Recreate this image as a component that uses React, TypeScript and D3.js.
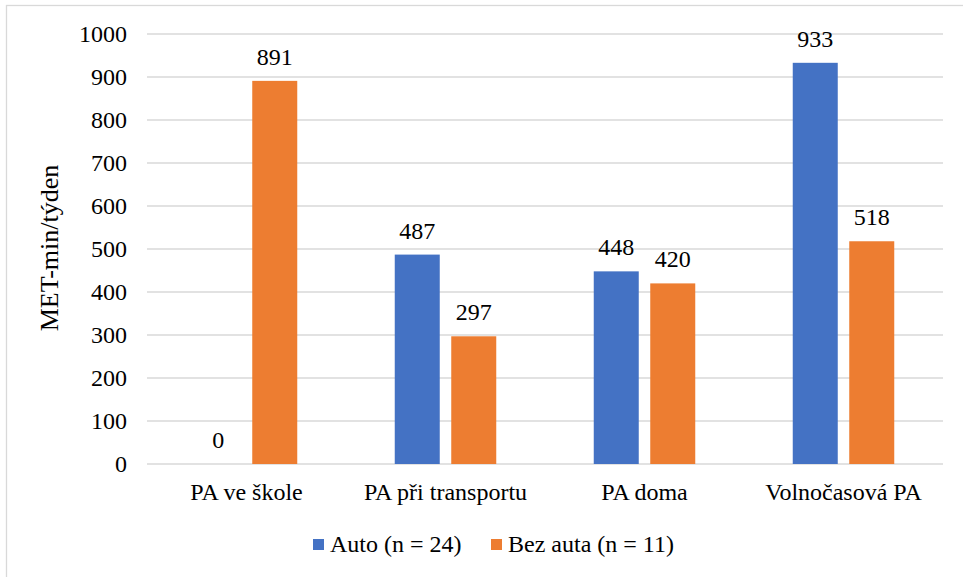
import React from "react";
import * as d3 from "d3";

const categories = ["PA ve škole", "PA při transportu", "PA doma", "Volnočasová PA"];
const seriesNames = ["Auto (n = 24)", "Bez auta (n = 11)"];
const autoValues = [0, 487, 448, 933];
const bezAutaValues = [891, 297, 420, 518];
const yTicks = [0, 100, 200, 300, 400, 500, 600, 700, 800, 900, 1000];
const colors = ["#4472C4", "#ED7D31"];

const W = 963;
const H = 577;

export default function App() {
  const left = 147, right = 943, top = 34, bottom = 464;
  const x0 = d3.scaleBand<string>().domain(categories).range([left, right]).paddingInner(0).paddingOuter(0);
  const y = d3.scaleLinear().domain([0, 1000]).range([bottom, top]);
  const barW = 45;
  const gap = 11.5;
  const series = [autoValues, bezAutaValues];

  return (
    <div style={{ position: "absolute", left: 0, top: 0, width: W, height: H, fontFamily: "serif" }}>
      <style>{`.serifchart text { font-family: "Liberation Serif", "Times New Roman", Tinos, serif !important; }`}</style>
      <svg className="serifchart" width={W} height={H} fontFamily="serif">
        <rect x={0} y={0} width={W} height={H} fill="#fff" />
        <rect x={6.5} y={5.5} width={W + 10} height={H + 10} fill="#fff" stroke="#d9d9d9" strokeWidth={1.3} />
        {yTicks.map((t) => (
          <g key={t}>
            <line x1={left} x2={right} y1={y(t)} y2={y(t)} stroke="#d9d9d9" strokeWidth={1.3} />
            <text x={127} y={y(t) + 8} textAnchor="end" fontSize={24}>{t}</text>
          </g>
        ))}
        {categories.map((c, i) => {
          const cx = x0(c)! + x0.bandwidth() / 2;
          return (
            <g key={c}>
              {series.map((vals, s) => {
                const bx = s === 0 ? cx - gap / 2 - barW : cx + gap / 2;
                const v = vals[i];
                return (
                  <g key={s}>
                    {v > 0 && (
                      <rect x={bx} y={y(v)} width={barW} height={y(0) - y(v)} fill={colors[s]} />
                    )}
                    <text x={bx + barW / 2} y={y(v) - 16} textAnchor="middle" fontSize={24}>{v}</text>
                  </g>
                );
              })}
              <text x={cx} y={500} textAnchor="middle" fontSize={24}>{c}</text>
            </g>
          );
        })}
        <text transform={`translate(58, ${(163 + 333) / 2}) rotate(-90)`} textAnchor="middle" fontSize={26}>MET-min/týden</text>
        {seriesNames.map((n, s) => {
          const lx = s === 0 ? 313 : 491;
          return (
            <g key={n}>
              <rect x={lx} y={539} width={11} height={11} fill={colors[s]} />
              <text x={lx + 17} y={552} fontSize={24}>{n}</text>
            </g>
          );
        })}
      </svg>
    </div>
  );
}
